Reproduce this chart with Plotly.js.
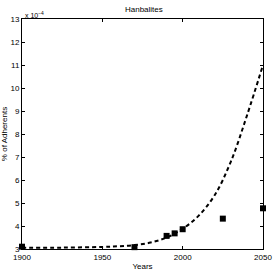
<!DOCTYPE html>
<html><head><meta charset="utf-8">
<script src="https://cdn.plot.ly/plotly-3.0.1.min.js"></script>
<style>html,body{margin:0;padding:0;background:#fff}#c{width:273px;height:273px}</style>
</head><body><div id="c"></div>
<script>
// values in units of 1e-4 %
const obsYears = [1900, 1970, 1990, 1995, 2000, 2025, 2050];
const obsValues = [3.10, 3.08, 3.57, 3.68, 3.86, 4.32, 4.77];
const fitYears = [1900, 1925, 1950, 1960, 1970, 1980, 1990, 2000, 2010, 2020, 2030, 2040, 2050];
const fitValues = [3.05, 3.06, 3.09, 3.12, 3.17, 3.28, 3.50, 3.88, 4.45, 5.35, 6.80, 8.80, 11.0];
const xTicks = [1900, 1950, 2000, 2050];
const yTicks = [3, 4, 5, 6, 7, 8, 9, 10, 11, 12, 13];

const fnt = {family: 'Liberation Sans, Arial, sans-serif', size: 8, color: '#000'};
Plotly.newPlot('c', [
  {x: fitYears, y: fitValues, mode: 'lines', line: {color: '#000', width: 2, dash: '4px,3px', shape: 'spline'}, hoverinfo: 'none'},
  {x: obsYears, y: obsValues, mode: 'markers', marker: {symbol: 'square', size: 6, color: '#000'}, cliponaxis: false}
], {
  width: 273, height: 273,
  margin: {l: 22, r: 10, t: 19, b: 24},
  showlegend: false,
  paper_bgcolor: '#fff', plot_bgcolor: '#fff',
  font: fnt,
  title: {text: 'Hanbalites', font: {family: fnt.family, size: 8, color: '#000'}, x: 0.527, xanchor: 'center', y: 0.965, yanchor: 'middle'},
  xaxis: {range: [1900, 2050], tickvals: xTicks, ticktext: xTicks.map(String), ticks: 'inside', ticklen: 3, tickcolor: '#000',
    showline: true, linecolor: '#000', linewidth: 1, mirror: 'ticks', showgrid: false, zeroline: false,
    tickfont: fnt, title: {text: 'Years', font: fnt, standoff: 2}},
  yaxis: {range: [3, 13], tickvals: yTicks, ticktext: yTicks.map(String), ticks: 'inside', ticklen: 3, tickcolor: '#000',
    showline: true, linecolor: '#000', linewidth: 1, mirror: 'ticks', showgrid: false, zeroline: false,
    tickfont: fnt, title: {text: '% of Adherents', font: fnt, standoff: 4}},
  annotations: [{text: 'x 10<sup>−4</sup>', xref: 'paper', yref: 'paper', x: 0, y: 1, xanchor: 'left', yanchor: 'bottom', showarrow: false, font: {family: fnt.family, size: 7, color: '#000'}, xshift: 1, yshift: -2}]
}, {displayModeBar: false, staticPlot: true});
</script></body></html>
